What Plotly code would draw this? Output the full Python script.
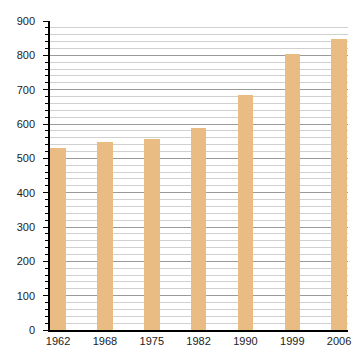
import plotly.graph_objects as go

years = ["1962", "1968", "1975", "1982", "1990", "1999", "2006"]
population = [530, 547, 557, 588, 684, 803, 847]

fig = go.Figure()
fig.add_trace(go.Bar(
    x=years, y=population,
    marker=dict(color="#E8BC82", line=dict(width=0)),
    width=0.33,
))

fig.update_layout(
    width=360, height=360,
    margin=dict(l=50, r=9, t=21, b=30),
    paper_bgcolor="white", plot_bgcolor="white",
    showlegend=False,
    font=dict(family="Liberation Sans, Arial, sans-serif", size=11, color="#222"),
    bargap=0,
)
fig.update_xaxes(
    type="category",
    range=[-0.173, 6.19],
    showline=True, linecolor="black", linewidth=1.5,
    ticks="", showgrid=False,
    tickfont=dict(size=11),
)
fig.update_yaxes(
    range=[0, 900],
    dtick=100,
    showline=True, linecolor="black", linewidth=1.5,
    ticks="outside", ticklen=5, tickcolor="black", tickwidth=1,
    ticklabelstandoff=6,
    showgrid=True, gridcolor="#9a9a9a", gridwidth=1,
    zeroline=False,
    tickfont=dict(size=11),
    minor=dict(dtick=20, ticks="outside", ticklen=3, tickcolor="black",
               showgrid=True, gridcolor="#d0d0d0", gridwidth=1),
)

fig.write_html("out.html", config={"displayModeBar": False},
               post_script="document.body.style.margin='0';")
